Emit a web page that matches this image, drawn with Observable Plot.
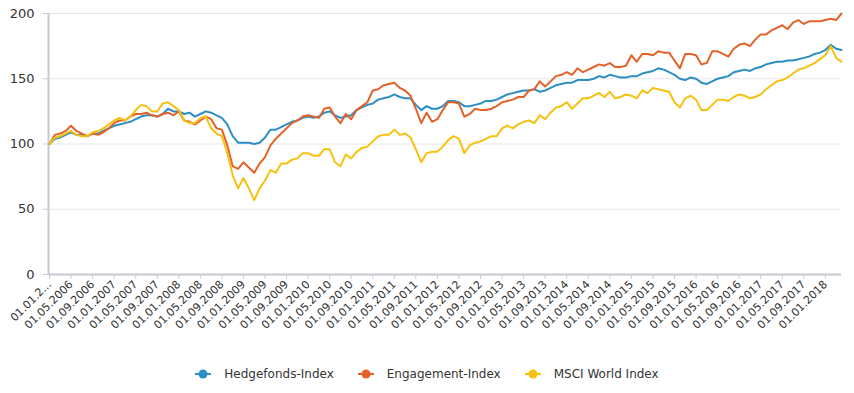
<!DOCTYPE html>
<html>
<head>
<meta charset="utf-8">
<script src="https://cdn.jsdelivr.net/npm/d3@7"></script>
<script src="https://cdn.jsdelivr.net/npm/@observablehq/plot@0.6"></script>
<style>
  body { margin: 0; background: #fff; font-family: "DejaVu Sans", sans-serif; }
  #chart { width: 854px; }
  .legend { display: flex; justify-content: center; align-items: center; margin-top: 13px; height: 18px; font-size: 12px; color: #333; }
  .legend .item { display: flex; align-items: center; margin: 0 12px; }
  .legend svg { margin-right: 13px; }
</style>
</head>
<body>
<div id="chart"></div>
<script>
// Series names and colours
const seriesNames = ["Hedgefonds-Index", "Engagement-Index", "MSCI World Index"];
const seriesColors = ["#2c8ec3", "#e4622a", "#f6c10f"];

// Monthly categories: 01.01.2006 ... 01.04.2018
const months = d3.utcMonth.range(new Date(Date.UTC(2006, 0, 1)), new Date(Date.UTC(2018, 4, 1)));
const categories = months.map(d3.utcFormat("%d.%m.%Y"));

// Y axis ticks
const yTicks = [0, 50, 100, 150, 200];

// Values (one per month)
const hedgefonds = [
  100,104,105,107,109,107,107,106,108,108,110,112,114,115,116,117,119,121,122,122,
  121,123,127,125,125,123,124,121,123,125,124,122,120,115,106,101,101,101,100,101,
  105,111,111,113,115,117,118,120,121,120,121,124,125,122,120,121,122,126,128,130,
  131,134,135,136,138,136,135,135,130,126,129,127,127,129,133,133,132,129,129,130,
  131,133,133,134,136,138,139,140,141,141,142,140,141,143,145,146,147,147,149,149,
  149,150,152,151,153,152,151,151,152,152,154,155,156,158,157,155,153,150,149,151,
  150,147,146,148,150,151,152,155,156,157,156,158,159,161,162,163,163,164,164,165,
  166,167,169,170,172,176,173,172
];
const engagement = [
  100,107,108,110,114,110,108,106,108,107,109,112,116,118,118,121,123,123,124,122,
  121,123,124,122,125,118,117,115,118,121,119,112,111,99,83,81,86,82,78,85,
  90,99,104,108,112,116,118,121,122,121,120,127,128,121,116,123,119,126,129,132,
  141,142,145,146,147,143,141,137,127,116,124,117,119,126,132,132,131,121,123,127,
  126,126,127,129,132,133,134,136,136,141,142,148,144,148,152,153,155,153,158,155,
  157,159,161,160,162,159,159,160,168,163,169,169,168,171,170,170,164,158,169,169,
  168,161,162,171,171,169,167,173,176,177,175,180,184,184,187,189,191,188,193,195,
  192,194,194,194,195,196,195,200
];
const msciWorld = [
  100,105,106,108,110,107,106,106,109,110,112,115,118,120,118,121,126,130,129,125,
  125,131,132,129,126,118,116,116,120,121,112,108,106,93,76,66,74,66,57,66,
  72,80,78,85,85,88,89,93,93,91,91,96,96,86,83,92,89,94,97,98,
  102,106,107,107,111,107,108,105,96,86,93,94,94,98,103,106,104,93,99,101,
  102,104,106,106,112,114,112,115,117,118,116,122,119,124,128,129,132,127,131,135,
  135,137,139,136,140,135,136,138,137,135,141,139,143,142,141,140,132,128,135,137,
  134,126,126,130,134,134,133,136,138,137,135,136,138,142,145,148,149,151,154,157,
  158,160,162,165,168,175,166,163
];

const seriesValues = [hedgefonds, engagement, msciWorld];
const rows = [];
seriesNames.forEach((name, s) => {
  seriesValues[s].forEach((v, i) => rows.push({series: name, label: categories[i], value: v}));
});

const xTicks = categories.filter((d, i) => i % 4 === 0);

const chart = Plot.plot({
  width: 854,
  height: 352,
  marginLeft: 49,
  marginRight: 13,
  marginTop: 13,
  marginBottom: 78,
  style: { fontFamily: "DejaVu Sans, sans-serif", fontSize: "11px", color: "#333", background: "#fff" },
  x: { type: "point", domain: categories, padding: 0 },
  y: { domain: [0, 200] },
  color: { domain: seriesNames, range: seriesColors },
  marks: [
    Plot.ruleY(yTicks.filter(v => v > 0), { stroke: "#e6e6e6", strokeWidth: 1 }),
    Plot.ruleY([0], { stroke: "#c6c8d2", strokeWidth: 2 }),
    Plot.ruleX([categories[0]], { stroke: "#c6c8d2", strokeWidth: 2, dx: -1 }),
    Plot.axisY({ ticks: yTicks, tickSize: 6, tickPadding: 9, fontSize: 13, label: null, stroke: "#ccc" }),
    Plot.axisX({
      ticks: xTicks, tickRotate: -45, tickSize: 5, tickPadding: 3, label: null, stroke: "#ccc",
      tickFormat: (d, i) => (d === categories[0] ? "01.01.2..." : d)
    }),
    Plot.lineY(rows, { x: "label", y: "value", stroke: "series", strokeWidth: 2 })
  ]
});
document.getElementById("chart").appendChild(chart);

// Legend
const legend = document.createElement("div");
legend.className = "legend";
seriesNames.forEach((name, s) => {
  const item = document.createElement("div");
  item.className = "item";
  item.innerHTML = `<svg width="16" height="12"><line x1="0" x2="16" y1="6" y2="6" stroke="${seriesColors[s]}" stroke-width="2"/><circle cx="8" cy="6" r="4.5" fill="${seriesColors[s]}"/></svg><span>${name}</span>`;
  legend.appendChild(item);
});
document.getElementById("chart").appendChild(legend);
</script>
</body>
</html>
